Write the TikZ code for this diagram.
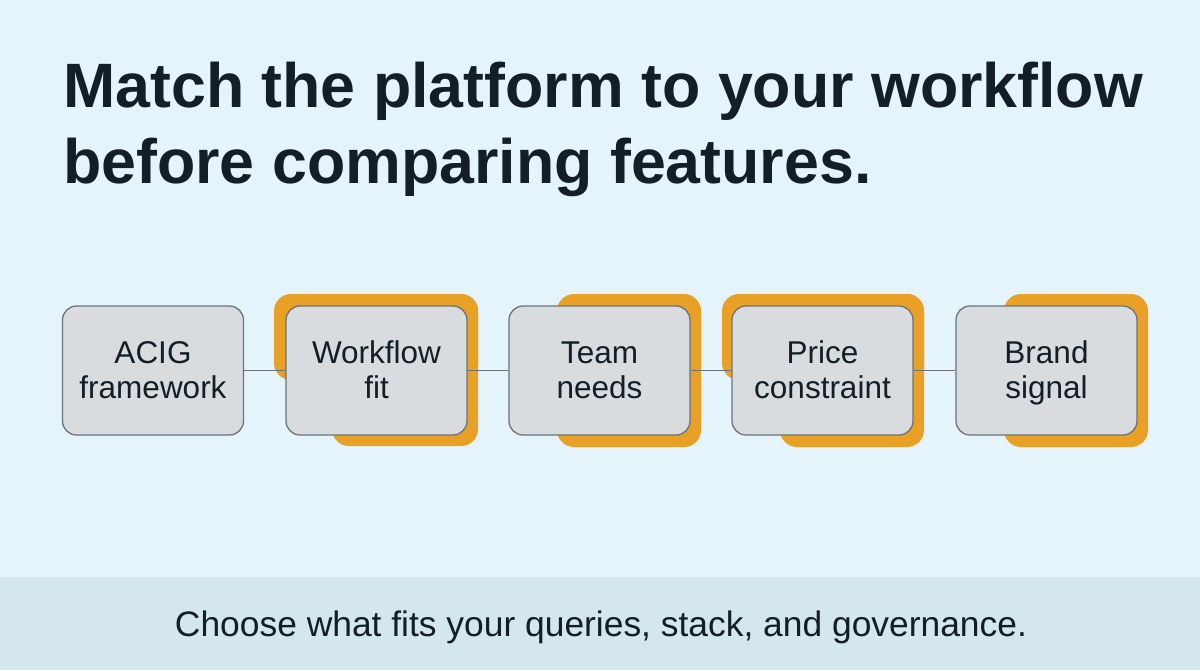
\documentclass[tikz,border=0pt]{standalone}
\usepackage{fontspec}
\setmainfont{Liberation Sans}
\definecolor{bgc}{HTML}{E5F3FA}
\definecolor{bandc}{HTML}{D4E7EF}
\definecolor{boxfill}{HTML}{D8DCDF}
\definecolor{boxline}{HTML}{6B747B}
\definecolor{orng}{HTML}{E8A026}
\definecolor{ink}{HTML}{141E26}
\newcommand\lnstrut{\rule[-7pt]{0pt}{34pt}}
\begin{document}
\begin{tikzpicture}[x=1pt,y=-1pt,
  stepbox/.style={draw=boxline, fill=boxfill, line width=1.3pt, rounded corners=14pt,
    minimum width=181pt, minimum height=129pt, align=center, text=ink, inner sep=0pt,
    font=\fontsize{31.5}{35}\selectfont},
  hilite/.style={fill=orng, rounded corners=17pt},
  link/.style={draw=boxline, line width=1.3pt},
  ttl/.style={anchor=base west, inner sep=0pt, text=ink, font=\fontsize{62.7}{76}\selectfont\bfseries}]
\useasboundingbox (0,0) rectangle (1200,670);
\fill[bgc] (0,0) rectangle (1200,670);
\fill[bandc] (0,577) rectangle (1200,670);
% title
\node[ttl] (t1) at (63,107) {Match the platform to your workflow};
\node[ttl] (t2) at (63,183) {before comparing features.};
% orange highlights
\fill[hilite] (274,294) rectangle (478,380);
\fill[hilite] (332,294) rectangle (478,446);
\fill[hilite] (557,294) rectangle (701,447);
\fill[hilite] (722,294) rectangle (924,380);
\fill[hilite] (780,294) rectangle (924,447);
\fill[hilite] (1004,294) rectangle (1148,447);
% boxes
\node[stepbox] (a) at (153,370.5) {ACIG\lnstrut\\framework\lnstrut};
\node[stepbox] (b) at (376.5,370.5) {Workflow\lnstrut\\fit\lnstrut};
\node[stepbox] (c) at (599.5,370.5) {Team\lnstrut\\needs\lnstrut};
\node[stepbox] (d) at (822.5,370.5) {Price\lnstrut\\constraint\lnstrut};
\node[stepbox] (e) at (1046.5,370.5) {Brand\lnstrut\\signal\lnstrut};
\draw[link] (a.east) -- (b.west);
\draw[link] (b.east) -- (c.west);
\draw[link] (c.east) -- (d.west);
\draw[link] (d.east) -- (e.west);
% footer
\node[anchor=base, inner sep=0pt, text=ink, font=\fontsize{35.4}{40}\selectfont] (f) at (601,636) {Choose what fits your queries, stack, and governance.};
\end{tikzpicture}
\end{document}
